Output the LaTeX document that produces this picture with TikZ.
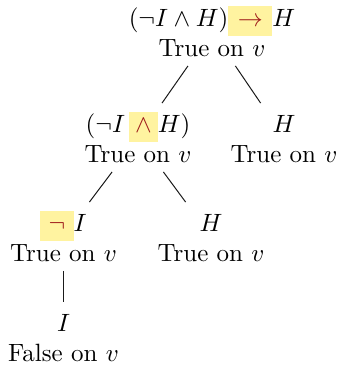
\documentclass[tikz,border=0pt]{standalone}
\usepackage{xcolor}

\definecolor{tHlFill}{HTML}{FFF3A0}
\definecolor{tOpRed}{HTML}{9E1A1A}
\definecolor{tEdge}{HTML}{1A1A1A}

% highlighted main connective, #1 = side padding
\newcommand{\hlop}[2][3pt]{%
  {\setlength{\fboxsep}{0pt}%
   \colorbox{tHlFill}{\strut\hspace{#1}$\color{tOpRed}#2$\hspace{#1}}}}

\begin{document}
\begin{tikzpicture}[
  x=0.4pt, y=-0.4pt,
  tnode/.style={align=center, inner sep=3.33pt, font=\normalsize},
  tedge/.style={draw=tEdge, line width=.4pt},
]
\useasboundingbox (0,0) rectangle (339,368);

% ---- the tableau nodes ---------------------------------------------------
\node[tnode] (root) at (212,31.5)
  {\strut$(\neg I \wedge H)\hlop[3.8pt]{\to}H$\\ True on $v$};
\node[tnode] (conj) at (138,137.5)
  {\strut$(\neg I\,\hlop[2.4pt]{\wedge}H)$\\ True on $v$};
\node[tnode] (rhs) at (284,137.5)
  {\strut$H$\\ True on $v$};
\node[tnode] (negI) at (63.5,236.5)
  {\strut$\hlop[3.3pt]{\neg}I$\\ True on $v$};
\node[tnode] (hL) at (211,236.5)
  {\strut$H$\\ True on $v$};
\node[tnode] (atomI) at (63.5,336.5)
  {\strut$I$\\ False on $v$};

% ---- branches ------------------------------------------------------------
\draw[tedge] (root) -- (conj);
\draw[tedge] (root) -- (rhs);
\draw[tedge] (conj) -- (negI);
\draw[tedge] (conj) -- (hL);
\draw[tedge] (negI) -- (atomI);
\end{tikzpicture}
\end{document}
